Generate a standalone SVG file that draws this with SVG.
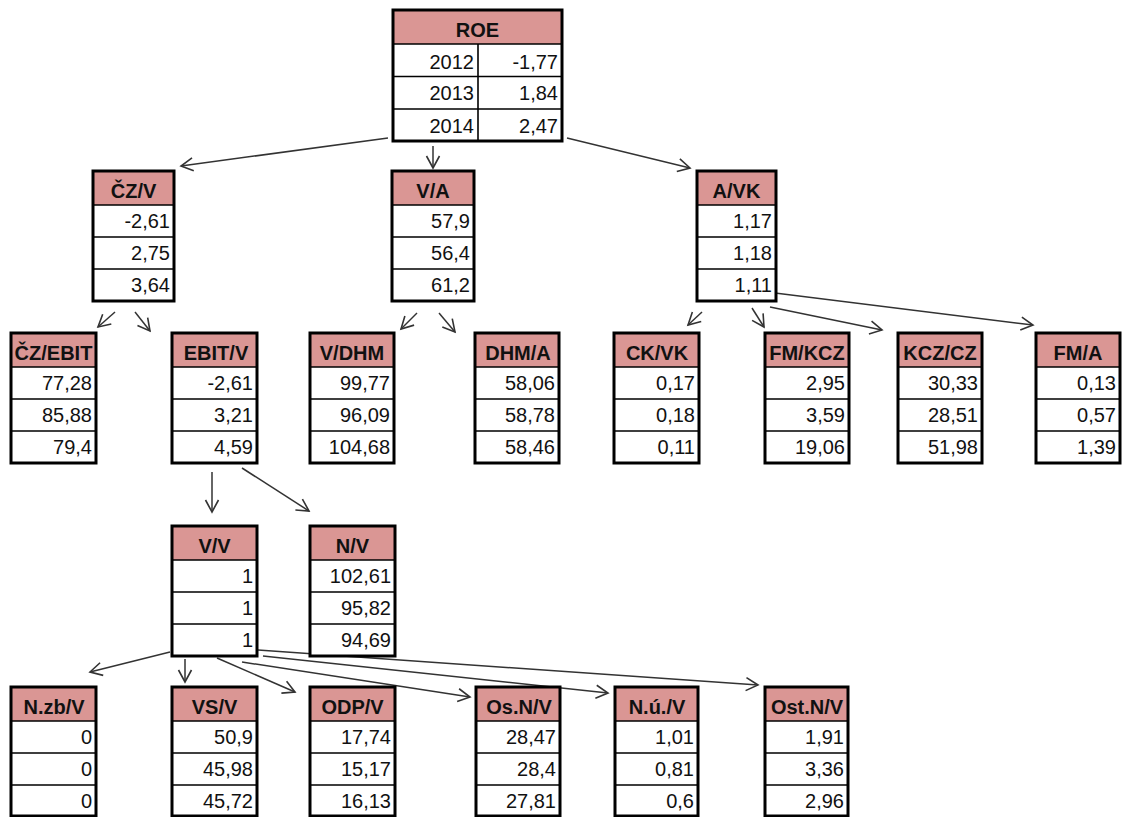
<svg xmlns="http://www.w3.org/2000/svg" width="1123" height="817" viewBox="0 0 1123 817">
<style>
.bg{fill:#fff}
.head{fill:#DA9694}
.grid{stroke:#000;stroke-width:1.6;fill:none}
.frame{fill:none;stroke:#000;stroke-width:3}
.t{font-family:"Liberation Sans",Arial,sans-serif;font-size:20px;fill:#111}
.h{font-weight:bold;text-anchor:middle}
.v{text-anchor:end}
.link{fill:none;stroke:#333;stroke-width:1.5;marker-end:url(#open)}
</style>
<defs>
<marker id="open" markerUnits="userSpaceOnUse" markerWidth="18" markerHeight="18" viewBox="-15 -9 18 18" refX="0" refY="0" orient="auto">
<path d="M-12,-6.5 L0,0 L-12,6.5" fill="none" stroke="#333" stroke-width="1.6"/>
</marker>
</defs>
<rect width="1123" height="817" fill="#fff"/>

<!-- connectors -->
<g id="connectors">
<path class="link" d="M388,138 L181,166"/>
<path class="link" d="M433,146 L433,168"/>
<path class="link" d="M567,138 L690,168"/>
<path class="link" d="M115,312 L98,327"/>
<path class="link" d="M135,312 L150,331"/>
<path class="link" d="M417,313 L401,329"/>
<path class="link" d="M439,313 L455,332"/>
<path class="link" d="M702,312 L688,325"/>
<path class="link" d="M752,308 L764,327"/>
<path class="link" d="M770,307 L882,330"/>
<path class="link" d="M775,293 L1033,325"/>
<path class="link" d="M212,472 L212,512"/>
<path class="link" d="M242,468 L309,511"/>
<path class="link" d="M170,652 L90,672"/>
<path class="link" d="M185,659 L185,682"/>
<path class="link" d="M217,658 L295,692"/>
<path class="link" d="M242,662 L470,697"/>
<path class="link" d="M263,656 L608,693"/>
<path class="link" d="M258,650 L758,685"/>
</g>

<!-- ROE -->
<g id="n-roe" transform="translate(393,10)">
<rect class="bg" width="169" height="131"/>
<rect class="head" width="169" height="34"/>
<path class="grid" d="M0,34H169M0,66.5H169M0,99H169M85,34V131"/>
<rect class="frame" width="169" height="131"/>
<text class="t h" x="84.5" y="27">ROE</text>
<text class="t v" x="81" y="59">2012</text><text class="t v" x="165" y="59">-1,77</text>
<text class="t v" x="81" y="90">2013</text><text class="t v" x="165" y="90">1,84</text>
<text class="t v" x="81" y="123">2014</text><text class="t v" x="165" y="123">2,47</text>
</g>

<!-- level 2 -->
<g id="n-czv" transform="translate(93,171)">
<rect class="bg" width="81" height="130"/><rect class="head" width="81" height="34"/>
<path class="grid" d="M0,34H81M0,66H81M0,98H81"/><rect class="frame" width="81" height="130"/>
<text class="t h" x="40.5" y="26.5">ČZ/V</text>
<text class="t v" x="77" y="57">-2,61</text><text class="t v" x="77" y="89">2,75</text><text class="t v" x="77" y="121">3,64</text>
</g>
<g id="n-va" transform="translate(392,171)">
<rect class="bg" width="82" height="130"/><rect class="head" width="82" height="34"/>
<path class="grid" d="M0,34H82M0,66H82M0,98H82"/><rect class="frame" width="82" height="130"/>
<text class="t h" x="41" y="26.5">V/A</text>
<text class="t v" x="78" y="57">57,9</text><text class="t v" x="78" y="89">56,4</text><text class="t v" x="78" y="121">61,2</text>
</g>
<g id="n-avk" transform="translate(697,171)">
<rect class="bg" width="79" height="130"/><rect class="head" width="79" height="34"/>
<path class="grid" d="M0,34H79M0,66H79M0,98H79"/><rect class="frame" width="79" height="130"/>
<text class="t h" x="39.5" y="26.5">A/VK</text>
<text class="t v" x="75" y="57">1,17</text><text class="t v" x="75" y="89">1,18</text><text class="t v" x="75" y="121">1,11</text>
</g>

<!-- level 3 -->
<g id="n-czebit" transform="translate(11,333)">
<rect class="bg" width="85" height="130"/><rect class="head" width="85" height="34"/>
<path class="grid" d="M0,34H85M0,66H85M0,98H85"/><rect class="frame" width="85" height="130"/>
<text class="t h" x="42.5" y="26.5">ČZ/EBIT</text>
<text class="t v" x="81" y="57">77,28</text><text class="t v" x="81" y="89">85,88</text><text class="t v" x="81" y="121">79,4</text>
</g>
<g id="n-ebitv" transform="translate(172,333)">
<rect class="bg" width="85" height="130"/><rect class="head" width="85" height="34"/>
<path class="grid" d="M0,34H85M0,66H85M0,98H85"/><rect class="frame" width="85" height="130"/>
<text class="t h" x="44" y="26.5">EBIT/V</text>
<text class="t v" x="81" y="57">-2,61</text><text class="t v" x="81" y="89">3,21</text><text class="t v" x="81" y="121">4,59</text>
</g>
<g id="n-vdhm" transform="translate(310,333)">
<rect class="bg" width="84" height="130"/><rect class="head" width="84" height="34"/>
<path class="grid" d="M0,34H84M0,66H84M0,98H84"/><rect class="frame" width="84" height="130"/>
<text class="t h" x="42" y="26.5">V/DHM</text>
<text class="t v" x="80" y="57">99,77</text><text class="t v" x="80" y="89">96,09</text><text class="t v" x="80" y="121">104,68</text>
</g>
<g id="n-dhma" transform="translate(475,333)">
<rect class="bg" width="84" height="130"/><rect class="head" width="84" height="34"/>
<path class="grid" d="M0,34H84M0,66H84M0,98H84"/><rect class="frame" width="84" height="130"/>
<text class="t h" x="43" y="26.5">DHM/A</text>
<text class="t v" x="80" y="57">58,06</text><text class="t v" x="80" y="89">58,78</text><text class="t v" x="80" y="121">58,46</text>
</g>
<g id="n-ckvk" transform="translate(614,333)">
<rect class="bg" width="85" height="130"/><rect class="head" width="85" height="34"/>
<path class="grid" d="M0,34H85M0,66H85M0,98H85"/><rect class="frame" width="85" height="130"/>
<text class="t h" x="43" y="26.5">CK/VK</text>
<text class="t v" x="81" y="57">0,17</text><text class="t v" x="81" y="89">0,18</text><text class="t v" x="81" y="121">0,11</text>
</g>
<g id="n-fmkcz" transform="translate(765,333)">
<rect class="bg" width="84" height="130"/><rect class="head" width="84" height="34"/>
<path class="grid" d="M0,34H84M0,66H84M0,98H84"/><rect class="frame" width="84" height="130"/>
<text class="t h" x="42" y="26.5">FM/KCZ</text>
<text class="t v" x="80" y="57">2,95</text><text class="t v" x="80" y="89">3,59</text><text class="t v" x="80" y="121">19,06</text>
</g>
<g id="n-kczcz" transform="translate(898,333)">
<rect class="bg" width="84" height="130"/><rect class="head" width="84" height="34"/>
<path class="grid" d="M0,34H84M0,66H84M0,98H84"/><rect class="frame" width="84" height="130"/>
<text class="t h" x="42" y="26.5">KCZ/CZ</text>
<text class="t v" x="80" y="57">30,33</text><text class="t v" x="80" y="89">28,51</text><text class="t v" x="80" y="121">51,98</text>
</g>
<g id="n-fma" transform="translate(1036,333)">
<rect class="bg" width="84" height="130"/><rect class="head" width="84" height="34"/>
<path class="grid" d="M0,34H84M0,66H84M0,98H84"/><rect class="frame" width="84" height="130"/>
<text class="t h" x="42" y="26.5">FM/A</text>
<text class="t v" x="80" y="57">0,13</text><text class="t v" x="80" y="89">0,57</text><text class="t v" x="80" y="121">1,39</text>
</g>

<!-- level 4 -->
<g id="n-vv" transform="translate(172,526)">
<rect class="bg" width="85" height="130"/><rect class="head" width="85" height="34"/>
<path class="grid" d="M0,34H85M0,66H85M0,98H85"/><rect class="frame" width="85" height="130"/>
<text class="t h" x="42.5" y="26.5">V/V</text>
<text class="t v" x="81" y="57">1</text><text class="t v" x="81" y="89">1</text><text class="t v" x="81" y="121">1</text>
</g>
<g id="n-nv" transform="translate(310,526)">
<rect class="bg" width="85" height="130"/><rect class="head" width="85" height="34"/>
<path class="grid" d="M0,34H85M0,66H85M0,98H85"/><rect class="frame" width="85" height="130"/>
<text class="t h" x="42.5" y="26.5">N/V</text>
<text class="t v" x="81" y="57">102,61</text><text class="t v" x="81" y="89">95,82</text><text class="t v" x="81" y="121">94,69</text>
</g>

<!-- level 5 -->
<g id="n-nzbv" transform="translate(11,687)">
<rect class="bg" width="85" height="129"/><rect class="head" width="85" height="34"/>
<path class="grid" d="M0,34H85M0,66H85M0,98H85"/><rect class="frame" width="85" height="129"/>
<text class="t h" x="43" y="26.5">N.zb/V</text>
<text class="t v" x="81" y="57">0</text><text class="t v" x="81" y="89">0</text><text class="t v" x="81" y="121">0</text>
</g>
<g id="n-vsv" transform="translate(172,687)">
<rect class="bg" width="85" height="129"/><rect class="head" width="85" height="34"/>
<path class="grid" d="M0,34H85M0,66H85M0,98H85"/><rect class="frame" width="85" height="129"/>
<text class="t h" x="42.5" y="26.5">VS/V</text>
<text class="t v" x="81" y="57">50,9</text><text class="t v" x="81" y="89">45,98</text><text class="t v" x="81" y="121">45,72</text>
</g>
<g id="n-odpv" transform="translate(310,687)">
<rect class="bg" width="85" height="129"/><rect class="head" width="85" height="34"/>
<path class="grid" d="M0,34H85M0,66H85M0,98H85"/><rect class="frame" width="85" height="129"/>
<text class="t h" x="42.5" y="26.5">ODP/V</text>
<text class="t v" x="81" y="57">17,74</text><text class="t v" x="81" y="89">15,17</text><text class="t v" x="81" y="121">16,13</text>
</g>
<g id="n-osnv" transform="translate(476,687)">
<rect class="bg" width="84" height="129"/><rect class="head" width="84" height="34"/>
<path class="grid" d="M0,34H84M0,66H84M0,98H84"/><rect class="frame" width="84" height="129"/>
<text class="t h" x="43" y="26.5">Os.N/V</text>
<text class="t v" x="80" y="57">28,47</text><text class="t v" x="80" y="89">28,4</text><text class="t v" x="80" y="121">27,81</text>
</g>
<g id="n-nuv" transform="translate(615,687)">
<rect class="bg" width="83" height="129"/><rect class="head" width="83" height="34"/>
<path class="grid" d="M0,34H83M0,66H83M0,98H83"/><rect class="frame" width="83" height="129"/>
<text class="t h" x="42" y="26.5">N.ú./V</text>
<text class="t v" x="79" y="57">1,01</text><text class="t v" x="79" y="89">0,81</text><text class="t v" x="79" y="121">0,6</text>
</g>
<g id="n-ostnv" transform="translate(765,687)">
<rect class="bg" width="83" height="129"/><rect class="head" width="83" height="34"/>
<path class="grid" d="M0,34H83M0,66H83M0,98H83"/><rect class="frame" width="83" height="129"/>
<text class="t h" x="42" y="26.5">Ost.N/V</text>
<text class="t v" x="79" y="57">1,91</text><text class="t v" x="79" y="89">3,36</text><text class="t v" x="79" y="121">2,96</text>
</g>
</svg>
